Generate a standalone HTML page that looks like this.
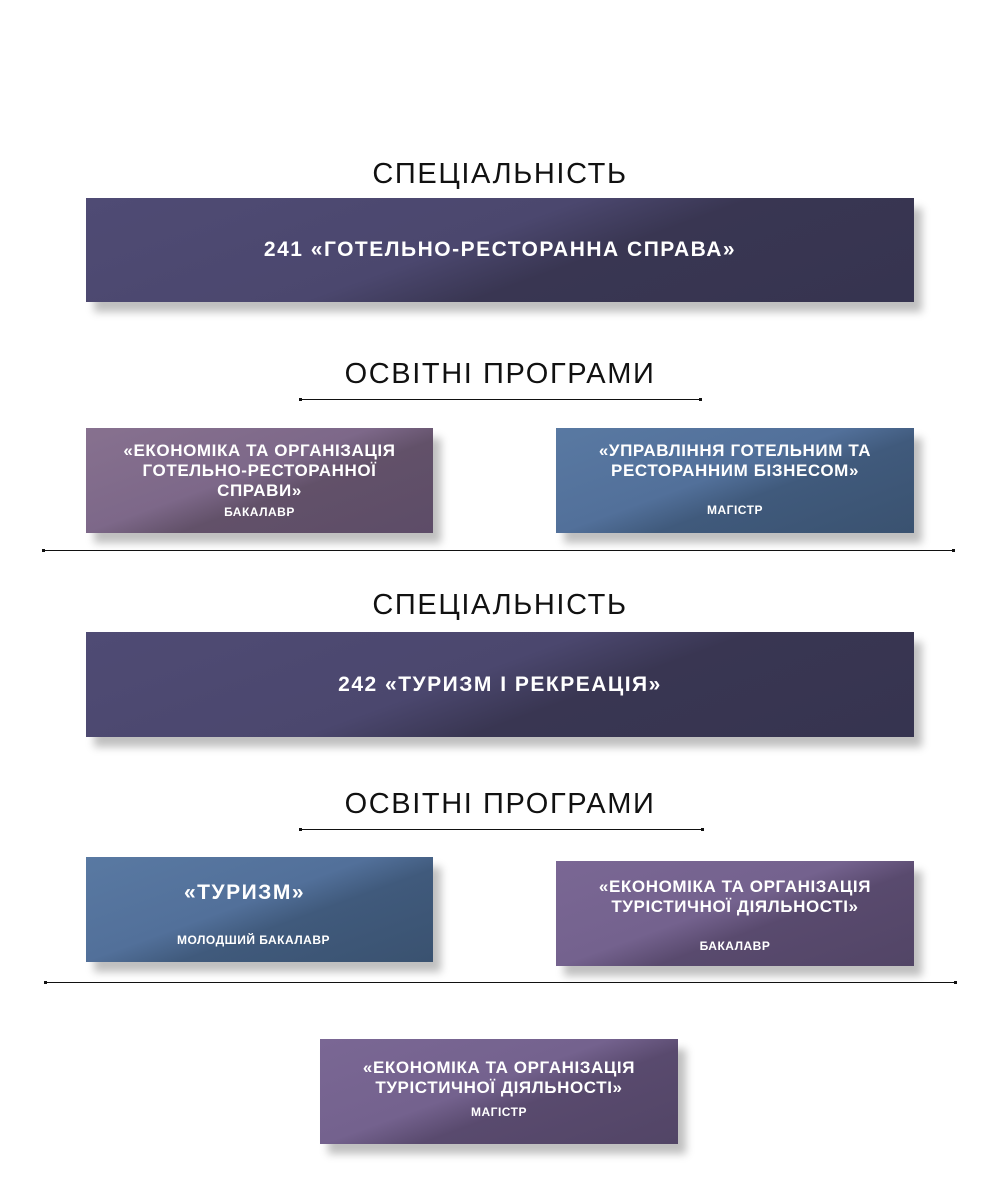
<!DOCTYPE html>
<html><head><meta charset="utf-8"><style>
body{margin:0;width:1000px;height:1200px;background:#fff;position:relative;font-family:"Liberation Sans",sans-serif;overflow:hidden}
.t{position:absolute;left:0;width:1000px;text-align:center;font-size:29px;color:#111;letter-spacing:1.6px}
.b{position:absolute;color:#fff;font-weight:bold;text-align:center;box-shadow:8px 10px 8px rgba(0,0,0,0.25)}
.dark{background:linear-gradient(160deg,#4f4b74 0%,#4b476e 45%,#393652 60%,#363450 100%)}
.pur{background:linear-gradient(160deg,#87718f 0%,#7d6889 45%,#625169 60%,#5d4c68 100%)}
.pur2{background:linear-gradient(160deg,#7a6794 0%,#74628e 45%,#594a6e 60%,#524566 100%)}
.blu{background:linear-gradient(160deg,#5979a2 0%,#52709a 45%,#405a7c 60%,#3a5270 100%)}
.l{position:absolute;height:1px;background:#111}
.l:before,.l:after{content:"";position:absolute;top:-1px;width:3px;height:3px;background:#111}
.l:before{left:0}.l:after{right:0}
.s{font-size:17px;line-height:20px;letter-spacing:0.6px}
.m{font-size:12px;letter-spacing:0.5px}
.big{font-size:21px;letter-spacing:1.5px}
</style></head><body>
<div class="t" style="top:158px">СПЕЦІАЛЬНІСТЬ</div>
<div class="b dark big" style="left:86px;top:198px;width:828px;height:104px;line-height:104px">241 «ГОТЕЛЬНО-РЕСТОРАННА СПРАВА»</div>
<div class="t" style="top:358px">ОСВІТНІ ПРОГРАМИ</div>
<div class="l" style="left:299px;width:403px;top:399px"></div>
<div class="b pur" style="left:86px;top:428px;width:347px;height:105px"><div class="s" style="margin-top:13px">«ЕКОНОМІКА ТА ОРГАНІЗАЦІЯ<br>ГОТЕЛЬНО-РЕСТОРАННОЇ<br>СПРАВИ»</div><div class="m" style="margin-top:4px">БАКАЛАВР</div></div>
<div class="b blu" style="left:556px;top:428px;width:358px;height:105px"><div class="s" style="margin-top:13px">«УПРАВЛІННЯ ГОТЕЛЬНИМ ТА<br>РЕСТОРАННИМ БІЗНЕСОМ»</div><div class="m" style="margin-top:22px">МАГІСТР</div></div>
<div class="l" style="left:42px;width:913px;top:550px"></div>
<div class="t" style="top:589px">СПЕЦІАЛЬНІСТЬ</div>
<div class="b dark big" style="left:86px;top:632px;width:828px;height:105px;line-height:105px">242 «ТУРИЗМ І РЕКРЕАЦІЯ»</div>
<div class="t" style="top:788px">ОСВІТНІ ПРОГРАМИ</div>
<div class="l" style="left:299px;width:405px;top:829px"></div>
<div class="b blu" style="left:86px;top:857px;width:347px;height:105px"><div class="big" style="margin-top:24px;margin-left:-30px">«ТУРИЗМ»</div><div class="m" style="margin-top:28px;margin-left:-12px">МОЛОДШИЙ БАКАЛАВР</div></div>
<div class="b pur2" style="left:556px;top:861px;width:358px;height:105px"><div class="s" style="margin-top:16px">«ЕКОНОМІКА ТА ОРГАНІЗАЦІЯ<br>ТУРІСТИЧНОЇ ДІЯЛЬНОСТІ»</div><div class="m" style="margin-top:22px">БАКАЛАВР</div></div>
<div class="l" style="left:44px;width:913px;top:982px"></div>
<div class="b pur2" style="left:320px;top:1039px;width:358px;height:105px"><div class="s" style="margin-top:19px">«ЕКОНОМІКА ТА ОРГАНІЗАЦІЯ<br>ТУРІСТИЧНОЇ ДІЯЛЬНОСТІ»</div><div class="m" style="margin-top:7px">МАГІСТР</div></div>
</body></html>
